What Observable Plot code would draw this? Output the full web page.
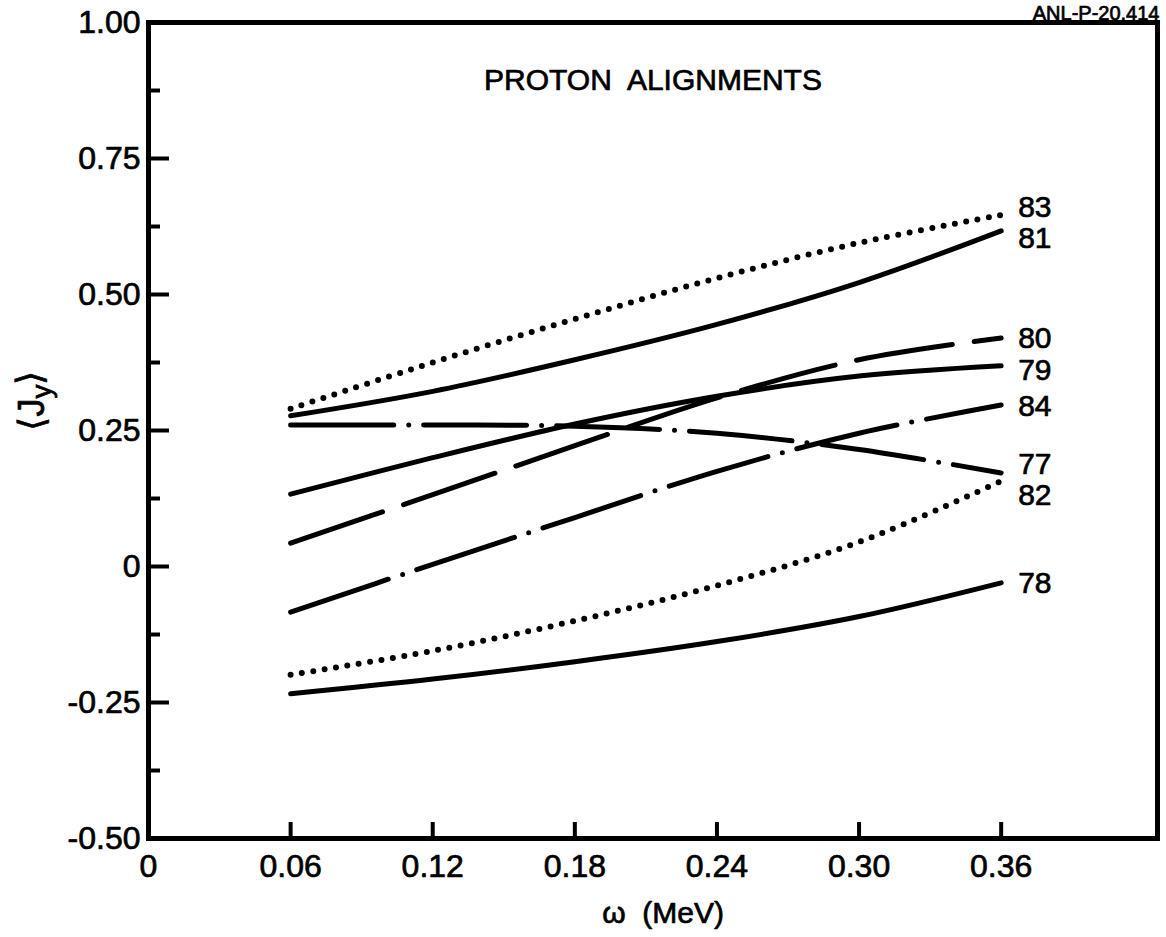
<!DOCTYPE html>
<html><head><meta charset="utf-8">
<script src="https://cdn.jsdelivr.net/npm/d3@7"></script>
<script src="https://cdn.jsdelivr.net/npm/@observablehq/plot@0.6"></script>
<style>body{margin:0;background:#fff} svg text{white-space:pre}</style>
</head><body><div id="chart"></div>
<script>
// ---- data ----
const omega = [0.06, 0.12, 0.18, 0.24, 0.30, 0.36];
const series = ["83", "81", "80", "79", "84", "77", "82", "78"];
const j83 = [0.290, 0.375, 0.455, 0.530, 0.595, 0.646];
const j81 = [0.277, 0.322, 0.380, 0.445, 0.522, 0.617];
const j80 = [0.043, 0.132, 0.222, 0.310, 0.380, 0.420];
const j79 = [0.133, 0.200, 0.262, 0.313, 0.350, 0.369];
const j84 = [-0.084, 0.004, 0.090, 0.175, 0.245, 0.297];
const j77 = [0.260, 0.260, 0.258, 0.245, 0.215, 0.172];
const j82 = [-0.199, -0.155, -0.100, -0.035, 0.045, 0.157];
const j78 = [-0.234, -0.207, -0.175, -0.138, -0.092, -0.030];
const values = {"83": j83, "81": j81, "80": j80, "79": j79, "84": j84, "77": j77, "82": j82, "78": j78};

const xTicks = [0, 0.06, 0.12, 0.18, 0.24, 0.30, 0.36];
const xTickLabels = ["0", "0.06", "0.12", "0.18", "0.24", "0.30", "0.36"];
const yTicks = [-0.5, -0.25, 0, 0.25, 0.5, 0.75, 1.0];
const yTickLabels = ["-0.50", "-0.25", "0", "0.25", "0.50", "0.75", "1.00"];
const yMinor = [-0.375, -0.125, 0.125, 0.375, 0.625, 0.875];
const title = "PROTON  ALIGNMENTS";
const xLabel = "\u03c9  (MeV)";
const yLabel = "\u27e8Jy\u27e9";
const docId = "ANL-P-20,414";

// ---- styles ----
const W = 1166, H = 937;
const M = {top: 22, right: 9, bottom: 99, left: 148};
const plotW = W - M.left - M.right, plotH = H - M.top - M.bottom;
const dash = {"83": "0 11.5", "81": null, "80": "97 22", "79": null,
              "84": "103 15 0 15", "77": "103 15 0 15", "82": "0 11.5", "78": null};
const widthOf = {"83": 6, "82": 6};
const labelDy = {"83": -8, "81": 8, "80": 0, "79": 5, "84": 1, "77": -9, "82": 14, "78": 1};
const font = "Liberation Sans, Arial, Helvetica, sans-serif";
const thick = {stroke: "black", strokeWidth: 0.7, fill: "black"};

const rows = series.flatMap(s => omega.map((w, i) => ({series: s, omega: w, j: values[s][i]})));
const lastRows = series.map(s => ({series: s, omega: omega[omega.length - 1], j: values[s][omega.length - 1]}));

const lineMarks = series.map(s => Plot.line(rows.filter(r => r.series === s), {
  x: "omega", y: "j", curve: "catmull-rom",
  stroke: "black", strokeWidth: widthOf[s] || 5,
  strokeLinecap: "round", strokeLinejoin: "round",
  strokeDasharray: dash[s] || undefined
}));

const chart = Plot.plot({
  width: W, height: H,
  marginTop: M.top, marginRight: M.right, marginBottom: M.bottom, marginLeft: M.left,
  x: {domain: [0, 0.426], axis: null},
  y: {domain: [-0.5, 1.0], axis: null},
  style: {fontFamily: font, background: "white", color: "black"},
  marks: [
    ...lineMarks,
    Plot.text(lastRows, {x: "omega", y: "j", text: "series", dx: 17,
      textAnchor: "start", fontSize: 30, ...thick}),
    Plot.frame({stroke: "black", strokeWidth: 5}),
    Plot.tickX(xTicks, {x: d => d, insetTop: plotH - 16, stroke: "black", strokeWidth: 4}),
    Plot.tickY(yTicks, {y: d => d, insetRight: plotW - 21, stroke: "black", strokeWidth: 4}),
    Plot.tickY(yMinor, {y: d => d, insetRight: plotW - 12, stroke: "black", strokeWidth: 4}),
    Plot.text(xTicks, {x: d => d, text: (d, i) => xTickLabels[i], frameAnchor: "bottom",
      lineAnchor: "top", dy: 16, fontSize: 32, ...thick}),
    Plot.text(yTicks, {y: d => d, text: (d, i) => yTickLabels[i], frameAnchor: "left",
      textAnchor: "end", dx: -8, fontSize: 32, ...thick}),
    Plot.text([title], {text: d => d, frameAnchor: "top", lineAnchor: "top", dy: 46, fontSize: 30, ...thick}),
    Plot.text([xLabel], {text: d => d, frameAnchor: "bottom", lineAnchor: "middle", dx: 10, dy: 75, fontSize: 30, ...thick}),
    Plot.text([yLabel], {text: d => d, frameAnchor: "left", rotate: -90, dx: -116, fontSize: 36, ...thick}),
    Plot.text([docId], {text: d => d, frameAnchor: "top-right", textAnchor: "end", lineAnchor: "bottom",
      dx: 2, dy: -3, fontSize: 20, ...thick})
  ]
});

document.getElementById("chart").appendChild(chart);

// per-label vertical offsets and subscript on the y label
const svg = d3.select(chart);
svg.selectAll("text").each(function() {
  const t = this.textContent;
  if (labelDy.hasOwnProperty(t) && this.getAttribute("text-anchor") !== "end") {
    const cur = this.getAttribute("transform") || "";
    this.setAttribute("transform", cur + ` translate(0,${labelDy[t]})`);
  }
  if (t === yLabel) {
    const el = d3.select(this);
    el.text("");
    el.append("tspan").text("\u27e8J");
    el.append("tspan").attr("font-size", "28").attr("dy", "0.25em").text("y");
    el.append("tspan").attr("dy", "-0.25em").text("\u27e9");
  }
});
</script>
</body></html>
